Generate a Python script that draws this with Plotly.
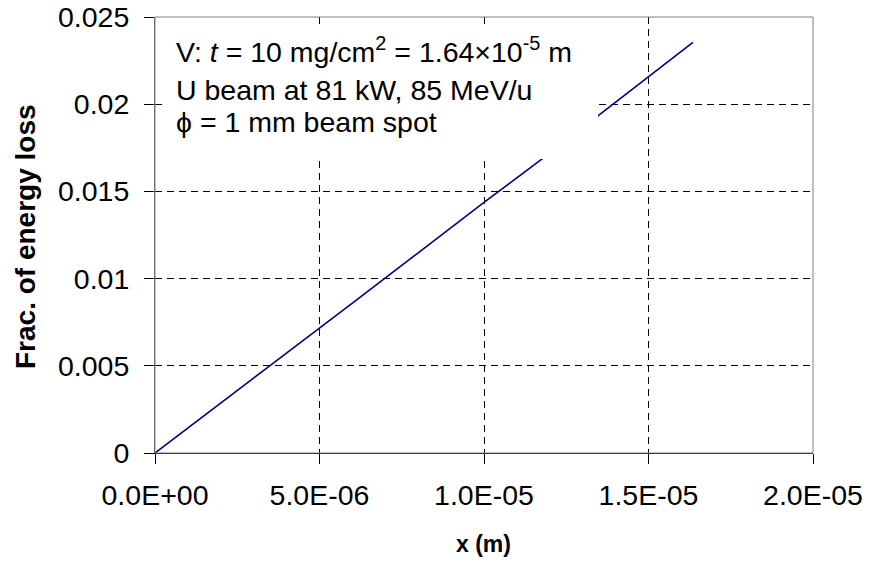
import plotly.graph_objects as go

# Data
x_m = [0, 2e-6, 4e-6, 6e-6, 8e-6, 1.0e-5, 1.2e-5, 1.4e-5, 1.635e-5]
frac_loss = [0, 0.00285, 0.0057, 0.0086, 0.01148, 0.01437, 0.0172, 0.0201, 0.02355]

x_ticks = [0, 5e-6, 1e-5, 1.5e-5, 2e-5]
x_ticktext = ["0.0E+00", "5.0E-06", "1.0E-05", "1.5E-05", "2.0E-05"]
y_ticks = [0, 0.005, 0.01, 0.015, 0.02, 0.025]
y_ticktext = ["0", "0.005", "0.01", "0.015", "0.02", "0.025"]

info_lines = [
    "V: <i>t</i> = 10 mg/cm<sup>2</sup> = 1.64×10<sup>-5</sup> m",
    "U beam at 81 kW, 85 MeV/u",
    "ϕ = 1 mm beam spot",
]

FONT = "Liberation Sans, Arial, sans-serif"
W, H = 872, 561
L, R, T, B = 155, 813, 17, 453

fig = go.Figure()
fig.add_trace(go.Scatter(x=x_m, y=frac_loss, mode="lines",
                         line=dict(color="#000080", width=1.6),
                         showlegend=False, hoverinfo="skip"))

# white text box covering part of the plot
fig.add_shape(type="rect", xref="x", yref="y",
              x0=2.4e-7, x1=1.3465e-5, y0=0.01686, y1=0.02448,
              fillcolor="white", line=dict(width=0), layer="above")
# plot-area border
fig.add_shape(type="rect", xref="paper", yref="paper", x0=0, x1=1, y0=0, y1=1,
              line=dict(color="#808080", width=1), layer="above")

ys = [50, 90, 122]
for txt, yp in zip(info_lines, ys):
    fig.add_annotation(text=txt, xref="paper", yref="paper",
                       x=(174 - L) / (R - L), y=(B - yp) / (B - T),
                       xanchor="left", yanchor="middle", showarrow=False,
                       font=dict(family=FONT, size=28.5, color="black"))

fig.add_annotation(text="<b>Frac. of energy loss</b>", xref="paper", yref="paper",
                   x=(25 - L) / (R - L), y=(B - 237) / (B - T), textangle=-90,
                   xanchor="center", yanchor="middle", showarrow=False,
                   font=dict(family=FONT, size=28, color="black"))
fig.add_annotation(text="<b>x (m)</b>", xref="paper", yref="paper",
                   x=(483 - L) / (R - L), y=(B - 544) / (B - T),
                   xanchor="center", yanchor="middle", showarrow=False,
                   font=dict(family=FONT, size=23, color="black"))

fig.update_xaxes(range=[0, 2e-5], tickvals=x_ticks, ticktext=x_ticktext,
                 showgrid=True, gridcolor="black", gridwidth=1, griddash="7px,5px",
                 zeroline=False, showline=True, linecolor="black", linewidth=1,
                 ticks="outside", ticklen=10, tickcolor="black",
                 tickfont=dict(family=FONT, size=28.5, color="black"),
                 ticklabelstandoff=7, automargin=False)
fig.update_yaxes(range=[0, 0.025], tickvals=y_ticks, ticktext=y_ticktext,
                 showgrid=True, gridcolor="black", gridwidth=1, griddash="7px,5px",
                 zeroline=False, showline=True, linecolor="#606060", linewidth=1,
                 ticks="outside", ticklen=10, tickcolor="black",
                 tickfont=dict(family=FONT, size=28.5, color="black"),
                 ticklabelstandoff=9, automargin=False)

fig.update_layout(width=W, height=H, margin=dict(l=L, r=W - R, t=T, b=H - B),
                  plot_bgcolor="white", paper_bgcolor="white", showlegend=False)

fig.write_html("out.html")
